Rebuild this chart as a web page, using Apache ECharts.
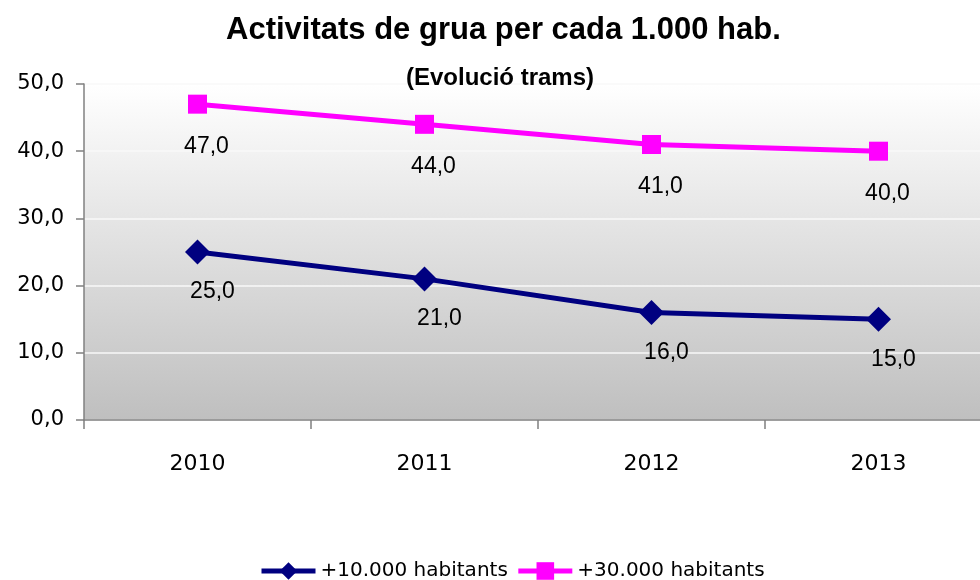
<!DOCTYPE html>
<html>
<head>
<meta charset="utf-8">
<script src="https://cdn.jsdelivr.net/npm/echarts@6/dist/echarts.min.js"></script>
<style>
    html, body { margin: 0; padding: 0; background: #fff; overflow: hidden; }
    /* l'àrea del gràfic continua una mica més enllà de la vora dreta */
    #chart { width: 992px; height: 580px; }
</style>
</head>
<body>
<div id="chart"></div>
<script>
// dades llegides del gràfic
const years = ['2010', '2011', '2012', '2013']
const seriesNames = ['+10.000 habitants', '+30.000 habitants']
const hab10000 = [25, 21, 16, 15]
const hab30000 = [47, 44, 41, 40]

function fmt(v) {
    return Number(v).toFixed(1).replace('.', ',')
}

var myChart = echarts.init(document.getElementById('chart'))

function labelStyle(distance, dx) {
    return {
        show: true,
        position: 'bottom',
        distance: distance,
        offset: [dx, 0],
        color: '#000',
        fontFamily: 'Liberation Sans',
        fontSize: 23,
        formatter: (p) => fmt(p.value)
    }
}

var option = {
    animation: false,
    title: [
        {
            text: 'Activitats de grua per cada 1.000 hab.',
            left: 221,
            top: 10,
            textStyle: { fontFamily: 'Liberation Sans', fontSize: 31, fontWeight: 'bold', color: '#000' }
        },
        {
            text: '(Evolució trams)',
            left: 401,
            top: 61,
            textStyle: { fontFamily: 'Liberation Sans', fontSize: 24, fontWeight: 'bold', color: '#000' }
        }
    ],
    legend: {
        data: seriesNames,
        top: 556,
        left: 254,
        itemWidth: 54,
        itemHeight: 22,
        itemGap: 8,
        lineStyle: { width: 5 },
        textStyle: { fontFamily: 'DejaVu Sans', fontSize: 20, color: '#000' }
    },
    grid: {
        left: 84,
        right: 0,
        top: 84,
        bottom: 160,
        show: true,
        borderWidth: 0,
        backgroundColor: new echarts.graphic.LinearGradient(0, 0, 0, 1, [
            { offset: 0, color: '#ffffff' },
            { offset: 1, color: '#bfbfbf' }
        ])
    },
    xAxis: {
        type: 'category',
        data: years,
        boundaryGap: true,
        axisLine: { lineStyle: { color: '#808080', width: 1.5 } },
        axisTick: { show: true, length: 9, lineStyle: { color: '#808080', width: 1.5 } },
        axisLabel: { margin: 33, fontFamily: 'DejaVu Sans', fontSize: 22, color: '#000' }
    },
    yAxis: {
        type: 'value',
        min: 0,
        max: 50,
        interval: 10,
        axisLine: { show: true, lineStyle: { color: '#808080', width: 1.5 } },
        axisTick: { show: true, length: 8, lineStyle: { color: '#808080', width: 1.5 } },
        splitLine: { lineStyle: { color: '#f8f8f8', width: 1.5 } },
        axisLabel: { margin: 20, fontFamily: 'DejaVu Sans', fontSize: 21, color: '#000', formatter: fmt }
    },
    series: [
        {
            name: seriesNames[0],
            type: 'line',
            data: hab10000,
            symbol: 'diamond',
            symbolSize: 25,
            lineStyle: { color: '#000080', width: 5 },
            itemStyle: { color: '#000080' },
            label: labelStyle(16, 15)
        },
        {
            name: seriesNames[1],
            type: 'line',
            data: hab30000,
            symbol: 'rect',
            symbolSize: 19,
            lineStyle: { color: '#ff00ff', width: 5 },
            itemStyle: { color: '#ff00ff' },
            label: labelStyle(21, 9)
        }
    ]
}

myChart.setOption(option)
</script>
</body>
</html>
